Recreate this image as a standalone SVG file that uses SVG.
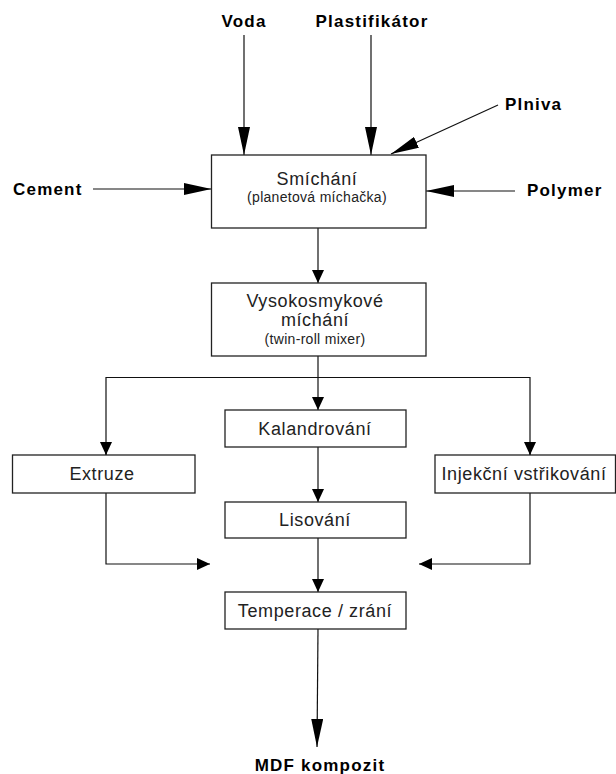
<svg xmlns="http://www.w3.org/2000/svg" width="616" height="774" viewBox="0 0 616 774">
<style>
.box{fill:#fff;stroke:#222;stroke-width:1.3}
.t{font-family:"Liberation Sans",Arial,sans-serif;font-size:18px;letter-spacing:0.6px;fill:#222;text-anchor:middle}
.s{font-family:"Liberation Sans",Arial,sans-serif;font-size:14px;letter-spacing:0.3px;fill:#222;text-anchor:middle}
.lbl{font-family:"Liberation Sans",Arial,sans-serif;font-size:17px;font-weight:bold;letter-spacing:1.2px;fill:#000}
.c{fill:none;stroke:#111;stroke-width:1.2}
</style>
<defs>
<marker id="a" viewBox="0 0 13 12" refX="13" refY="6" markerWidth="13" markerHeight="12" markerUnits="userSpaceOnUse" orient="auto"><path d="M0,0 L13,6 L0,12 z" fill="#000"/></marker>
<marker id="b" viewBox="0 0 28 12" refX="28" refY="6" markerWidth="28" markerHeight="12" markerUnits="userSpaceOnUse" orient="auto"><path d="M0,0 L28,6 L0,12 z" fill="#000"/></marker>
</defs>
<rect width="616" height="774" fill="#fff"/>
<g id="connectors">
<line class="c" x1="244" y1="35" x2="244" y2="155" marker-end="url(#b)"/>
<line class="c" x1="371" y1="35" x2="371" y2="155" marker-end="url(#b)"/>
<line class="c" x1="498" y1="105" x2="391" y2="154" marker-end="url(#b)"/>
<line class="c" x1="93" y1="189" x2="211.5" y2="189" marker-end="url(#b)"/>
<line class="c" x1="515" y1="191" x2="426" y2="191" marker-end="url(#b)"/>
<line class="c" x1="318" y1="228" x2="318" y2="283" marker-end="url(#a)"/>
<line class="c" x1="318" y1="356" x2="318" y2="410" marker-end="url(#a)"/>
<path class="c" d="M106,455 V377.5 H530 V455"/>
<line class="c" x1="106" y1="442" x2="106" y2="455" marker-end="url(#a)"/>
<line class="c" x1="530" y1="442" x2="530" y2="455" marker-end="url(#a)"/>
<line class="c" x1="318" y1="447" x2="318" y2="502" marker-end="url(#a)"/>
<line class="c" x1="318" y1="538" x2="318" y2="592" marker-end="url(#a)"/>
<path class="c" d="M106,493 V564 H210" marker-end="url(#a)"/>
<path class="c" d="M530,493 V564 H419" marker-end="url(#a)"/>
<line class="c" x1="318" y1="629" x2="317" y2="747" marker-end="url(#b)"/>
</g>
<g id="voda"><text class="lbl" x="244" y="26.5" text-anchor="middle">Voda</text></g>
<g id="plastifikator"><text class="lbl" x="372" y="26.5" text-anchor="middle">Plastifikátor</text></g>
<g id="plniva"><text class="lbl" x="505" y="110">Plniva</text></g>
<g id="cement"><text class="lbl" x="13" y="195">Cement</text></g>
<g id="polymer"><text class="lbl" x="527" y="196">Polymer</text></g>
<g id="smichani">
<rect class="box" x="211.5" y="155" width="214.5" height="73"/>
<text class="t" x="317" y="185">Smíchání</text>
<text class="s" x="317" y="202">(planetová míchačka)</text>
</g>
<g id="vysokosmykove">
<rect class="box" x="211.5" y="283" width="214.5" height="73"/>
<text class="t" x="315" y="307">Vysokosmykové</text>
<text class="t" x="315" y="326">míchání</text>
<text class="s" x="315" y="344">(twin-roll mixer)</text>
</g>
<g id="kalandrovani">
<rect class="box" x="225" y="410" width="181" height="37"/>
<text class="t" x="315" y="435">Kalandrování</text>
</g>
<g id="extruze">
<rect class="box" x="12.5" y="455" width="182.5" height="38"/>
<text class="t" x="102" y="480">Extruze</text>
</g>
<g id="injekcni">
<rect class="box" x="435" y="455" width="180.5" height="38"/>
<text class="t" x="524" y="480">Injekční vstřikování</text>
</g>
<g id="lisovani">
<rect class="box" x="225" y="502" width="181" height="36"/>
<text class="t" x="315" y="526">Lisování</text>
</g>
<g id="temperace">
<rect class="box" x="225" y="592" width="181" height="37"/>
<text class="t" x="315" y="617">Temperace / zrání</text>
</g>
<g id="mdf"><text class="lbl" x="320" y="771" text-anchor="middle">MDF kompozit</text></g>
</svg>
